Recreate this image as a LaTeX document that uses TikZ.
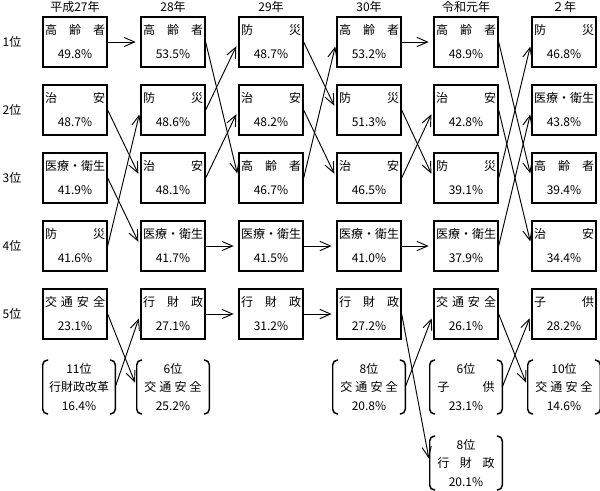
\documentclass[tikz,border=0pt]{standalone}
\usepackage{fontspec}
\setmainfont{Noto Sans CJK JP}
\usetikzlibrary{arrows.meta, positioning}
\newcommand{\kintou}[2][45pt]{\makebox[#1][s]{#2}}
\tikzset{
    rankbox/.style={draw, line width=1pt, minimum width=48pt, minimum height=37.5pt, inner sep=0pt, align=center, font=\fontsize{9}{18}\selectfont},
    prevbox/.style={minimum width=54pt, minimum height=40pt, inner sep=0pt, align=center, font=\fontsize{9}{14}\selectfont},
    bracket/.style={line width=1.1pt, rounded corners=3.5pt},
    flow/.style={-{Straight Barb[length=8pt,width=7pt]}, line width=0.7pt, shorten >=3.5pt},
    yearlabel/.style={font=\fontsize{9}{9}\selectfont},
    ranklabel/.style={font=\fontsize{9}{9}\selectfont}
}
\newcommand{\brackets}[1]{%
    \draw[bracket] ([xshift=4pt]#1.north west) -- (#1.north west) -- (#1.south west) -- ([xshift=4pt]#1.south west);
    \draw[bracket] ([xshift=-4pt]#1.north east) -- (#1.north east) -- (#1.south east) -- ([xshift=-4pt]#1.south east);
}

\begin{document}
\begin{tikzpicture}[x=0.75pt, y=-0.75pt]
        \useasboundingbox (0,0) rectangle (600,490);

        % years
        \node[yearlabel] (h27) at (75,7) {平成27年};
        \node[yearlabel] (h28) at (173,7) {28年};
        \node[yearlabel] (h29) at (271,7) {29年};
        \node[yearlabel] (h30) at (369,7) {30年};
        \node[yearlabel] (hr1) at (466,7) {令和元年};
        \node[yearlabel] (hr2) at (564,7) {２年};

        % ranks
        \node[ranklabel] (rank1) at (12,42) {1位};
        \node[ranklabel] (rank2) at (12,110) {2位};
        \node[ranklabel] (rank3) at (12,178) {3位};
        \node[ranklabel] (rank4) at (12,246) {4位};
        \node[ranklabel] (rank5) at (12,314) {5位};

        % 平成27年
        \node[rankbox] (y27-1) at (75,42) {\kintou{高\hfil 齢\hfil 者}\\49.8\%};
        \node[rankbox] (y27-2) at (75,110) {\kintou{治\hfil 安}\\48.7\%};
        \node[rankbox] (y27-3) at (75,178) {\kintou{医\hfil 療\hfil ・\hfil 衛\hfil 生}\\41.9\%};
        \node[rankbox] (y27-4) at (75,246) {\kintou{防\hfil 災}\\41.6\%};
        \node[rankbox] (y27-5) at (75,314) {\kintou{交\hfil 通\hfil 安\hfil 全}\\23.1\%};
        \node[prevbox] (y27-p) at (79,387) {11位\\行財政改革\\16.4\%};

        % 28年
        \node[rankbox] (y28-1) at (173,42) {\kintou{高\hfil 齢\hfil 者}\\53.5\%};
        \node[rankbox] (y28-2) at (173,110) {\kintou{防\hfil 災}\\48.6\%};
        \node[rankbox] (y28-3) at (173,178) {\kintou{治\hfil 安}\\48.1\%};
        \node[rankbox] (y28-4) at (173,246) {\kintou{医\hfil 療\hfil ・\hfil 衛\hfil 生}\\41.7\%};
        \node[rankbox] (y28-5) at (173,314) {\kintou{行\hfil 財\hfil 政}\\27.1\%};
        \node[prevbox] (y28-p) at (173,387) {6位\\\kintou[43pt]{交\hfil 通\hfil 安\hfil 全}\\25.2\%};

        % 29年
        \node[rankbox] (y29-1) at (271,42) {\kintou{防\hfil 災}\\48.7\%};
        \node[rankbox] (y29-2) at (271,110) {\kintou{治\hfil 安}\\48.2\%};
        \node[rankbox] (y29-3) at (271,178) {\kintou{高\hfil 齢\hfil 者}\\46.7\%};
        \node[rankbox] (y29-4) at (271,246) {\kintou{医\hfil 療\hfil ・\hfil 衛\hfil 生}\\41.5\%};
        \node[rankbox] (y29-5) at (271,314) {\kintou{行\hfil 財\hfil 政}\\31.2\%};

        % 30年
        \node[rankbox] (y30-1) at (369,42) {\kintou{高\hfil 齢\hfil 者}\\53.2\%};
        \node[rankbox] (y30-2) at (369,110) {\kintou{防\hfil 災}\\51.3\%};
        \node[rankbox] (y30-3) at (369,178) {\kintou{治\hfil 安}\\46.5\%};
        \node[rankbox] (y30-4) at (369,246) {\kintou{医\hfil 療\hfil ・\hfil 衛\hfil 生}\\41.0\%};
        \node[rankbox] (y30-5) at (369,314) {\kintou{行\hfil 財\hfil 政}\\27.2\%};
        \node[prevbox] (y30-p) at (369,387) {8位\\\kintou[43pt]{交\hfil 通\hfil 安\hfil 全}\\20.8\%};

        % 令和元年
        \node[rankbox] (r1-1) at (466,42) {\kintou{高\hfil 齢\hfil 者}\\48.9\%};
        \node[rankbox] (r1-2) at (466,110) {\kintou{治\hfil 安}\\42.8\%};
        \node[rankbox] (r1-3) at (466,178) {\kintou{防\hfil 災}\\39.1\%};
        \node[rankbox] (r1-4) at (466,246) {\kintou{医\hfil 療\hfil ・\hfil 衛\hfil 生}\\37.9\%};
        \node[rankbox] (r1-5) at (466,314) {\kintou{交\hfil 通\hfil 安\hfil 全}\\26.1\%};
        \node[prevbox] (r1-p) at (466,387) {6位\\\kintou[43pt]{子\hfil 供}\\23.1\%};
        \node[prevbox] (r1-q) at (466,463) {8位\\\kintou[43pt]{行\hfil 財\hfil 政}\\20.1\%};

        % 2年
        \node[rankbox] (r2-1) at (564,42) {\kintou{防\hfil 災}\\46.8\%};
        \node[rankbox] (r2-2) at (564,110) {\kintou{医\hfil 療\hfil ・\hfil 衛\hfil 生}\\43.8\%};
        \node[rankbox] (r2-3) at (564,178) {\kintou{高\hfil 齢\hfil 者}\\39.4\%};
        \node[rankbox] (r2-4) at (564,246) {\kintou{治\hfil 安}\\34.4\%};
        \node[rankbox] (r2-5) at (564,314) {\kintou{子\hfil 供}\\28.2\%};
        \node[prevbox] (r2-p) at (564,387) {10位\\\kintou[43pt]{交\hfil 通\hfil 安\hfil 全}\\14.6\%};

        % brackets
        \brackets{y27-p}
        \brackets{y28-p}
        \brackets{y30-p}
        \brackets{r1-p}
        \brackets{r1-q}
        \brackets{r2-p}

        % 27 -> 28
        \draw[flow] (y27-1.east) -- (y28-1.west);
        \draw[flow] (y27-2.east) -- (y28-3.west);
        \draw[flow] (y27-3.east) -- (y28-4.west);
        \draw[flow] (y27-4.east) -- (y28-2.west);
        \draw[flow] (y27-5.east) -- (y28-p.west);
        \draw[flow] (y27-p.east) -- (y28-5.west);
        % 28 -> 29
        \draw[flow] (y28-1.east) -- (y29-3.west);
        \draw[flow] (y28-2.east) -- (y29-1.west);
        \draw[flow] (y28-3.east) -- (y29-2.west);
        \draw[flow] (y28-4.east) -- (y29-4.west);
        \draw[flow] (y28-5.east) -- (y29-5.west);
        % 29 -> 30
        \draw[flow] (y29-1.east) -- (y30-2.west);
        \draw[flow] (y29-2.east) -- (y30-3.west);
        \draw[flow] (y29-3.east) -- (y30-1.west);
        \draw[flow] (y29-4.east) -- (y30-4.west);
        \draw[flow] (y29-5.east) -- (y30-5.west);
        % 30 -> 令和元年
        \draw[flow] (y30-1.east) -- (r1-1.west);
        \draw[flow] (y30-2.east) -- (r1-3.west);
        \draw[flow] (y30-3.east) -- (r1-2.west);
        \draw[flow] (y30-4.east) -- (r1-4.west);
        \draw[flow] (y30-5.east) -- (r1-q.west);
        \draw[flow] (y30-p.east) -- (r1-5.west);
        % 令和元年 -> 2年
        \draw[flow] (r1-1.east) -- (r2-3.west);
        \draw[flow] (r1-2.east) -- (r2-4.west);
        \draw[flow] (r1-3.east) -- (r2-1.west);
        \draw[flow] (r1-4.east) -- (r2-2.west);
        \draw[flow] (r1-5.east) -- (r2-p.west);
        \draw[flow] (r1-p.east) -- (r2-5.west);
    \end{tikzpicture}
\end{document}
